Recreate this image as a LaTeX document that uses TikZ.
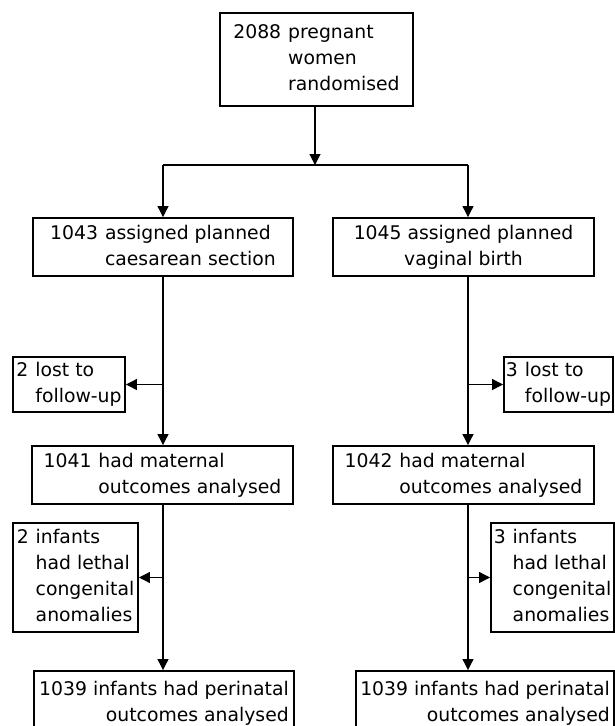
\documentclass[tikz,border=0pt]{standalone}
\usepackage{fontspec}
\setmainfont{DejaVu Sans}
\usetikzlibrary{arrows.meta}
\tikzset{
  box/.style={draw, line width=1.9pt, inner sep=0pt, align=center,
    font=\fontsize{18.8}{26}\selectfont},
  conn/.style={line width=1.1pt},
  arr/.style={conn, -{Triangle[length=11pt,width=11pt]}}
}
\newcommand{\hang}[2]{\begin{tabular}{@{}l@{\hspace{7pt}}l@{}}#1&#2\end{tabular}}
\begin{document}
\begin{tikzpicture}[x=1pt,y=-1pt]
\useasboundingbox (0,0) rectangle (615,726);
% boxes
\node[box, minimum width=193pt, minimum height=93pt] (top) at (316.5,59.5)
  {\hang{2088}{pregnant\\ & women\\ & randomised}};
\node[box, minimum width=260pt, minimum height=58pt] (cs) at (163,247)
  {\hang{1043}{assigned planned\\ & caesarean section}};
\node[box, minimum width=261pt, minimum height=58pt] (vb) at (463.5,247)
  {1045 assigned planned\\ vaginal birth};
\node[box, minimum width=112pt, minimum height=55pt] (lostL) at (69,384.5)
  {\hang{2}{lost to\\ & follow-up}};
\node[box, minimum width=109pt, minimum height=55pt] (lostR) at (558.5,384.5)
  {\hang{3}{lost to\\ & follow-up}};
\node[box, minimum width=261pt, minimum height=58pt] (matL) at (162.5,475)
  {\hang{1041}{had maternal\\ & outcomes analysed}};
\node[box, minimum width=261pt, minimum height=58pt] (matR) at (463.5,475)
  {\hang{1042}{had maternal\\ & outcomes analysed}};
\node[box, minimum width=125pt, minimum height=109pt] (infL) at (75.5,577.5)
  {\hang{2}{infants\\ & had lethal\\ & congenital\\ & anomalies}};
\node[box, minimum width=123pt, minimum height=109pt] (infR) at (552.5,577.5)
  {\hang{3}{infants\\ & had lethal\\ & congenital\\ & anomalies}};
\node[box, align=right, minimum width=260pt, minimum height=64pt] (perL) at (164,703)
  {1039 infants had perinatal\\ outcomes analysed};
\node[box, align=right, minimum width=258pt, minimum height=64pt] (perR) at (485,703)
  {1039 infants had perinatal\\ outcomes analysed};
% connectors
\coordinate (split) at (315,165);
\coordinate (sl) at (163,165);
\coordinate (sr) at (468,165);
\draw[arr] (top.south -| split) -- (split);
\draw[conn] (sl) -- (sr);
\draw[arr] (sl) -- (sl |- cs.north);
\draw[arr] (sr) -- (sr |- vb.north);
\draw[arr] (cs.south -| sl) -- (matL.north -| sl);
\draw[arr] (lostL.east -| sl) -- (lostL.east);
\draw[arr] (vb.south -| sr) -- (matR.north -| sr);
\draw[arr] (lostR.west -| sr) -- (lostR.west);
\draw[arr] (matL.south -| sl) -- (perL.north -| sl);
\draw[arr] (infL.east -| sl) -- (infL.east);
\draw[arr] (matR.south -| sr) -- (perR.north -| sr);
\draw[arr] (infR.west -| sr) -- (infR.west);
\end{tikzpicture}
\end{document}
